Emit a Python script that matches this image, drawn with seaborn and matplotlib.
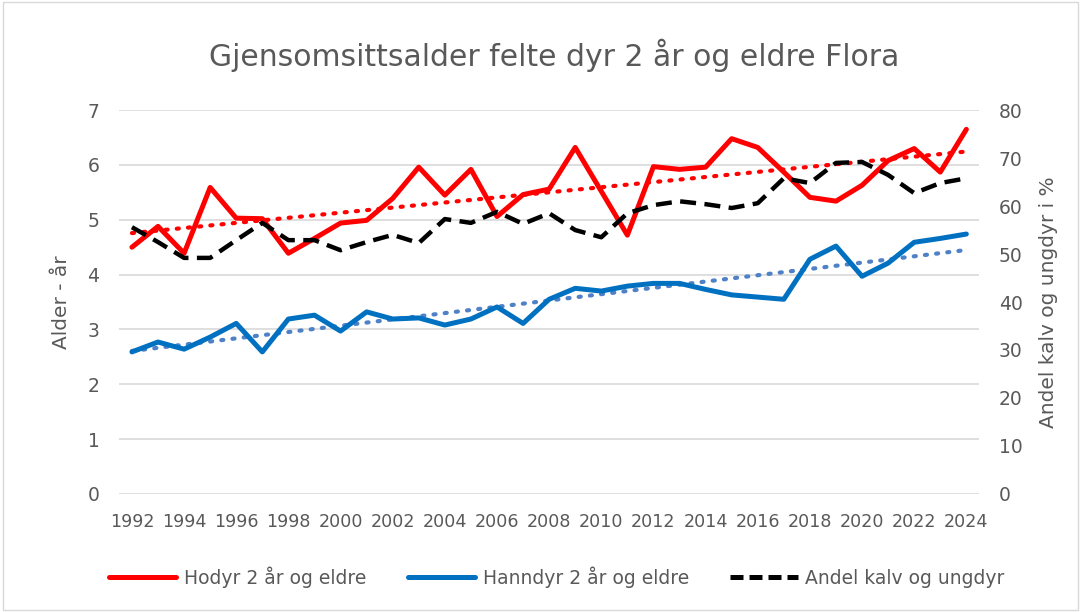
import numpy as np
import pandas as pd
import seaborn as sns
import matplotlib.pyplot as plt
from matplotlib.patches import Rectangle
from matplotlib.lines import Line2D

years = list(range(1992, 2025))

# average age, female deer 2 years and older
hodyr = [4.50, 4.88, 4.39, 5.59, 5.03, 5.02, 4.39, 4.66, 4.94, 4.99, 5.39, 5.96,
         5.45, 5.92, 5.06, 5.46, 5.56, 6.32, 5.52, 4.72, 5.97, 5.92, 5.96, 6.48,
         6.32, 5.87, 5.41, 5.34, 5.63, 6.08, 6.30, 5.87, 6.65]

# average age, male deer 2 years and older
hanndyr = [2.59, 2.77, 2.64, 2.86, 3.11, 2.59, 3.19, 3.26, 2.97, 3.32, 3.19, 3.21,
           3.08, 3.19, 3.41, 3.11, 3.55, 3.75, 3.70, 3.79, 3.84, 3.84, 3.73, 3.63,
           3.59, 3.55, 4.28, 4.52, 3.97, 4.21, 4.59, 4.66, 4.74]

# share of calves and young animals, %
andel = [55.6, 52.5, 49.2, 49.2, 52.9, 56.5, 52.9, 52.9, 50.8, 52.5, 54.0, 52.3,
         57.3, 56.5, 58.8, 56.3, 58.5, 55.0, 53.5, 58.5, 60.2, 61.0, 60.4, 59.6,
         60.6, 65.8, 64.8, 69.0, 69.2, 66.5, 62.7, 64.8, 65.8]

df = pd.DataFrame({'year': years, 'hodyr': hodyr, 'hanndyr': hanndyr, 'andel': andel})

sns.set_style('white')
plt.rcParams['font.family'] = ['DejaVu Sans']
grey = '#595959'
red = '#FF0000'
blue = '#0070C0'

fig, ax = plt.subplots(figsize=(10.81, 6.12), dpi=100)
fig.subplots_adjust(left=0.110, right=0.906, top=0.820, bottom=0.193)
fig.patches.append(Rectangle((0.003, 0.003), 0.994, 0.994, transform=fig.transFigure,
                             fill=False, edgecolor='#D9D9D9', lw=1))

ax2 = ax.twinx()

# trend lines
sns.regplot(data=df, x='year', y='hodyr', ax=ax, scatter=False, ci=None, truncate=True,
            line_kws=dict(color=red, lw=3, ls=(0, (0.5, 2.2)), dash_capstyle='round'))
sns.regplot(data=df, x='year', y='hanndyr', ax=ax, scatter=False, ci=None, truncate=True,
            line_kws=dict(color='#4F81C7', lw=3, ls=(0, (0.5, 2.2)), dash_capstyle='round'))

sns.lineplot(data=df, x='year', y='hodyr', ax=ax, color=red, lw=3.6)
sns.lineplot(data=df, x='year', y='hanndyr', ax=ax, color=blue, lw=3.6)
sns.lineplot(data=df, x='year', y='andel', ax=ax2, color='black', lw=3.2,
             ls=(0, (3.6, 1.9)))

ax.set_xlim(1991.5, 2024.5)
ax.set_ylim(0, 7)
ax2.set_ylim(0, 80)
ax.set_yticks(range(0, 8))
ax2.set_yticks(range(0, 81, 10))
ax.set_xticks(years[::2])
ax.set_xticklabels([str(y) for y in years[::2]])

ax.yaxis.grid(True, color='#D9D9D9', lw=1.2)
ax.set_axisbelow(True)
for a in (ax, ax2):
    for s in a.spines.values():
        s.set_visible(False)
    a.tick_params(length=0, labelsize=13.5, colors=grey)
ax.tick_params(axis='x', pad=14, labelsize=12.6)
ax.tick_params(axis='y', pad=14)
ax2.tick_params(axis='y', pad=14)

ax.set_xlabel('')
ax.set_ylabel('Alder - år', fontsize=14.5, color=grey, labelpad=12)
ax2.set_ylabel('Andel kalv og ungdyr i %', fontsize=14.5, color=grey, labelpad=12)

fig.suptitle('Gjensomsittsalder felte dyr 2 år og eldre Flora', x=0.513, y=0.937,
             fontsize=21.5, color=grey)

handles = [Line2D([], [], color=red, lw=3.6),
           Line2D([], [], color=blue, lw=3.6),
           Line2D([], [], color='black', lw=3.6, ls=(0, (2.6, 1.2)))]
labels = ['Hodyr 2 år og eldre', 'Hanndyr 2 år og eldre', 'Andel kalv og ungdyr']
fig.legend(handles, labels, loc='center', bbox_to_anchor=(0.515, 0.057), ncol=3,
           frameon=False, fontsize=13.5, labelcolor=grey, handlelength=3.6,
           handletextpad=0.4, columnspacing=2.2)

fig.savefig('out.png', dpi=100)
